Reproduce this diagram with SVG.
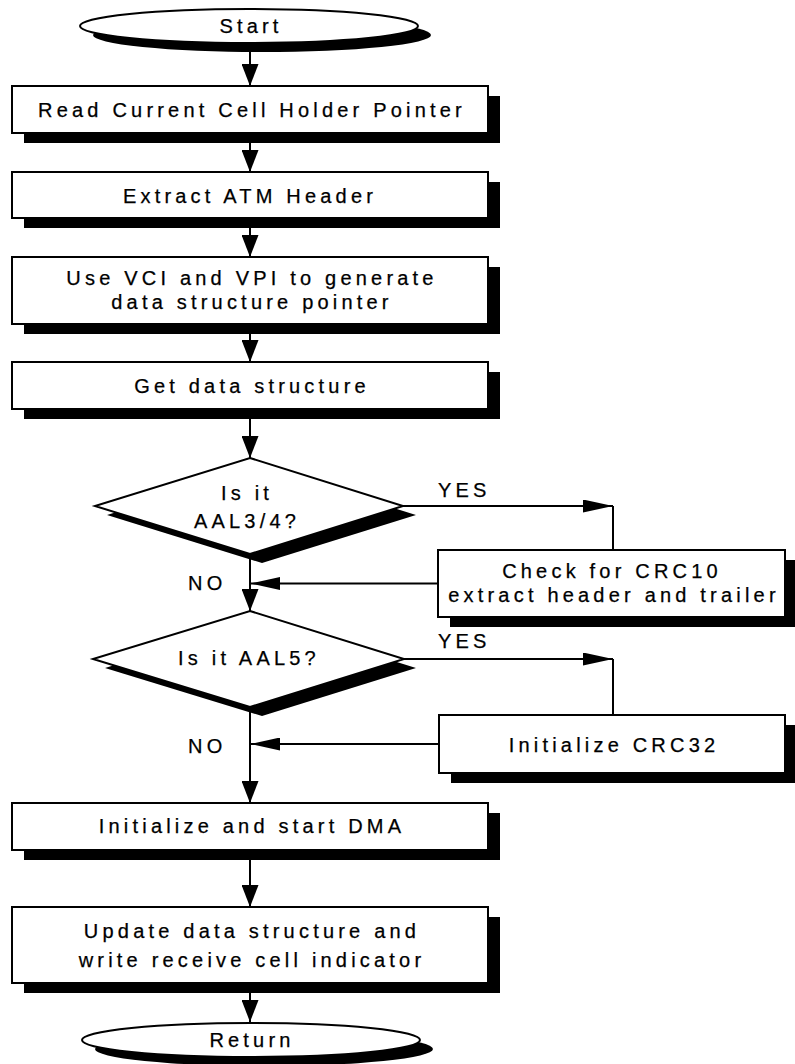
<svg xmlns="http://www.w3.org/2000/svg" width="795" height="1064" viewBox="0 0 795 1064">
  <style>
    .shape { fill: #ffffff; stroke: #000000; stroke-width: 2; }
    .shadow { fill: #000000; stroke: none; }
    .line { fill: none; stroke: #000000; stroke-width: 2; }
    text { font-family: "Liberation Sans", Arial, sans-serif; font-size: 20px; letter-spacing: 4.2px; fill: #000000; stroke: #000000; stroke-width: 0.25; }
    .c { text-anchor: middle; }
  </style>
  <defs>
    <!-- short wide head for the main vertical flow -->
    <marker id="head" markerUnits="userSpaceOnUse" viewBox="0 0 22 17" refX="22" refY="8.5" markerWidth="22" markerHeight="17" orient="auto">
      <path d="M0,0 L22,8.5 L0,17 Z" fill="#000000"/>
    </marker>
    <!-- long narrow head for the side branches -->
    <marker id="headLong" markerUnits="userSpaceOnUse" viewBox="0 0 30 13" refX="30" refY="6.5" markerWidth="30" markerHeight="13" orient="auto">
      <path d="M0,0 L30,6.5 L0,13 Z" fill="#000000"/>
    </marker>
  </defs>

  <g id="connectors">
    <line class="line" x1="250" y1="43" x2="250" y2="86" marker-end="url(#head)"/>
    <line class="line" x1="250" y1="133" x2="250" y2="172" marker-end="url(#head)"/>
    <line class="line" x1="250" y1="218" x2="250" y2="257" marker-end="url(#head)"/>
    <line class="line" x1="250" y1="324" x2="250" y2="362" marker-end="url(#head)"/>
    <line class="line" x1="250" y1="409" x2="250" y2="458" marker-end="url(#head)"/>
    <line class="line" x1="250" y1="554" x2="250" y2="611" marker-end="url(#head)"/>
    <line class="line" x1="250" y1="707" x2="250" y2="803" marker-end="url(#head)"/>
    <line class="line" x1="250" y1="850" x2="250" y2="907" marker-end="url(#head)"/>
    <line class="line" x1="250" y1="983" x2="250" y2="1022" marker-end="url(#head)"/>
    <!-- YES branches -->
    <line class="line" x1="403" y1="506" x2="613" y2="506" marker-end="url(#headLong)"/>
    <line class="line" x1="613" y1="506" x2="613" y2="550"/>
    <line class="line" x1="404" y1="659" x2="613" y2="659" marker-end="url(#headLong)"/>
    <line class="line" x1="613" y1="659" x2="613" y2="715"/>
    <!-- returns into the main flow -->
    <line class="line" x1="438" y1="583.5" x2="250" y2="583.5" marker-end="url(#headLong)"/>
    <line class="line" x1="439" y1="744" x2="250" y2="744" marker-end="url(#headLong)"/>
    <!-- branch labels -->
    <text x="438" y="497">YES</text>
    <text x="438" y="648">YES</text>
    <text x="188" y="590">NO</text>
    <text x="188" y="753">NO</text>
  </g>

  <g id="start">
    <ellipse class="shadow" cx="262" cy="35" rx="169" ry="17"/>
    <ellipse class="shape" cx="249" cy="26" rx="169" ry="17"/>
    <text class="c" x="251" y="33">Start</text>
  </g>

  <g id="read-pointer">
    <rect class="shadow" x="24" y="96" width="476" height="47"/>
    <rect class="shape" x="12" y="86" width="476" height="47"/>
    <text class="c" x="252" y="117">Read Current Cell Holder Pointer</text>
  </g>

  <g id="extract-header">
    <rect class="shadow" x="24" y="182" width="476" height="46"/>
    <rect class="shape" x="12" y="172" width="476" height="46"/>
    <text class="c" x="250" y="203">Extract ATM Header</text>
  </g>

  <g id="gen-pointer">
    <rect class="shadow" x="24" y="267" width="476" height="67"/>
    <rect class="shape" x="12" y="257" width="476" height="67"/>
    <text class="c" x="252" y="285">Use VCI and VPI to generate</text>
    <text class="c" x="252" y="309">data structure pointer</text>
  </g>

  <g id="get-structure">
    <rect class="shadow" x="24" y="372" width="476" height="47"/>
    <rect class="shape" x="12" y="362" width="476" height="47"/>
    <text class="c" x="252" y="393">Get data structure</text>
  </g>

  <g id="is-aal34">
    <polygon class="shadow" points="262,467 416,515 262,563 107,515"/>
    <polygon class="shape" points="250,458 403,506 250,554 95,506"/>
    <text class="c" x="247" y="500">Is it</text>
    <text class="c" x="247" y="528">AAL3/4?</text>
  </g>

  <g id="crc10">
    <rect class="shadow" x="450" y="560" width="347" height="67"/>
    <rect class="shape" x="438" y="550" width="347" height="67"/>
    <text class="c" x="612" y="578">Check for CRC10</text>
    <text class="c" x="614" y="602">extract header and trailer</text>
  </g>

  <g id="is-aal5">
    <polygon class="shadow" points="262,620 416,668 262,716 105,668"/>
    <polygon class="shape" points="250,611 404,659 250,707 93,659"/>
    <text class="c" x="249" y="665">Is it AAL5?</text>
  </g>

  <g id="crc32">
    <rect class="shadow" x="451" y="725" width="346" height="58"/>
    <rect class="shape" x="439" y="715" width="346" height="58"/>
    <text class="c" x="614" y="752">Initialize CRC32</text>
  </g>

  <g id="start-dma">
    <rect class="shadow" x="24" y="813" width="476" height="47"/>
    <rect class="shape" x="12" y="803" width="476" height="47"/>
    <text class="c" x="252" y="833">Initialize and start DMA</text>
  </g>

  <g id="update-structure">
    <rect class="shadow" x="24" y="917" width="476" height="76"/>
    <rect class="shape" x="12" y="907" width="476" height="76"/>
    <text class="c" x="252" y="938">Update data structure and</text>
    <text class="c" x="252" y="967">write receive cell indicator</text>
  </g>

  <g id="return">
    <ellipse class="shadow" cx="264" cy="1049" rx="169" ry="17"/>
    <ellipse class="shape" cx="251" cy="1040" rx="169" ry="17"/>
    <text class="c" x="252" y="1047">Return</text>
  </g>
</svg>
